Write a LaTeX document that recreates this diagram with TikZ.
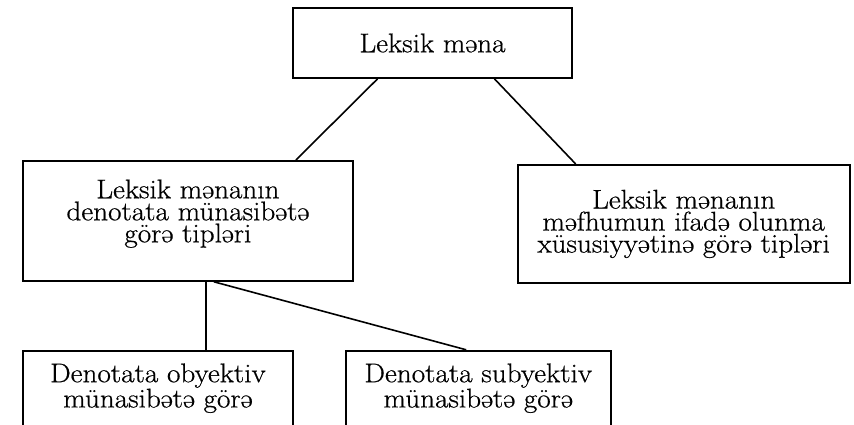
\documentclass[tikz,border=0pt]{standalone}
\usepackage{fontspec}
\setmainfont{Latin Modern Roman}[FakeStretch=1.08,FakeBold=0.6]
\usepackage{tikz}
\usetikzlibrary{positioning}

\begin{document}
\begin{tikzpicture}[x=1pt,y=-1pt,
  font=\fontsize{27}{22}\selectfont,
  box/.style={draw,line width=1.8pt,align=center,inner sep=0pt},
  link/.style={line width=1.6pt}]
\useasboundingbox (0,0) rectangle (854,425);
\node[box,minimum width=279pt,minimum height=70pt] (top) at (432.5,43) {Leksik məna};
\node[box,minimum width=330pt,minimum height=120pt,text depth=20pt,anchor=north west] (midL) at (22,160)
  {Leksik mənanın\\denotata münasibətə\\görə tipləri};
\node[box,minimum width=332pt,minimum height=118pt,right=163pt of midL.north east,anchor=north west,yshift=-4pt] (midR)
  {Leksik mənanın\\məfhumun ifadə olunma\\xüsusiyyətinə görə tipləri};
\node[box,minimum width=270pt,minimum height=75pt,below=68pt of midL.south west,anchor=north west] (botL)
  {Denotata obyektiv\\münasibətə görə};
\node[box,minimum width=265pt,minimum height=75pt,right=51pt of botL.north east,anchor=north west] (botR)
  {Denotata subyektiv\\münasibətə görə};
% connectors
\draw[link] ([xshift=-55pt]top.south) -- ([xshift=108pt]midL.north);
\draw[link] ([xshift=62pt]top.south) -- ([xshift=-108pt]midR.north);
\draw[link] ([xshift=18pt]midL.south) -- ([xshift=48pt]botL.north);
\draw[link] ([xshift=26pt]midL.south) -- ([xshift=-12pt]botR.north);
\end{tikzpicture}
\end{document}
